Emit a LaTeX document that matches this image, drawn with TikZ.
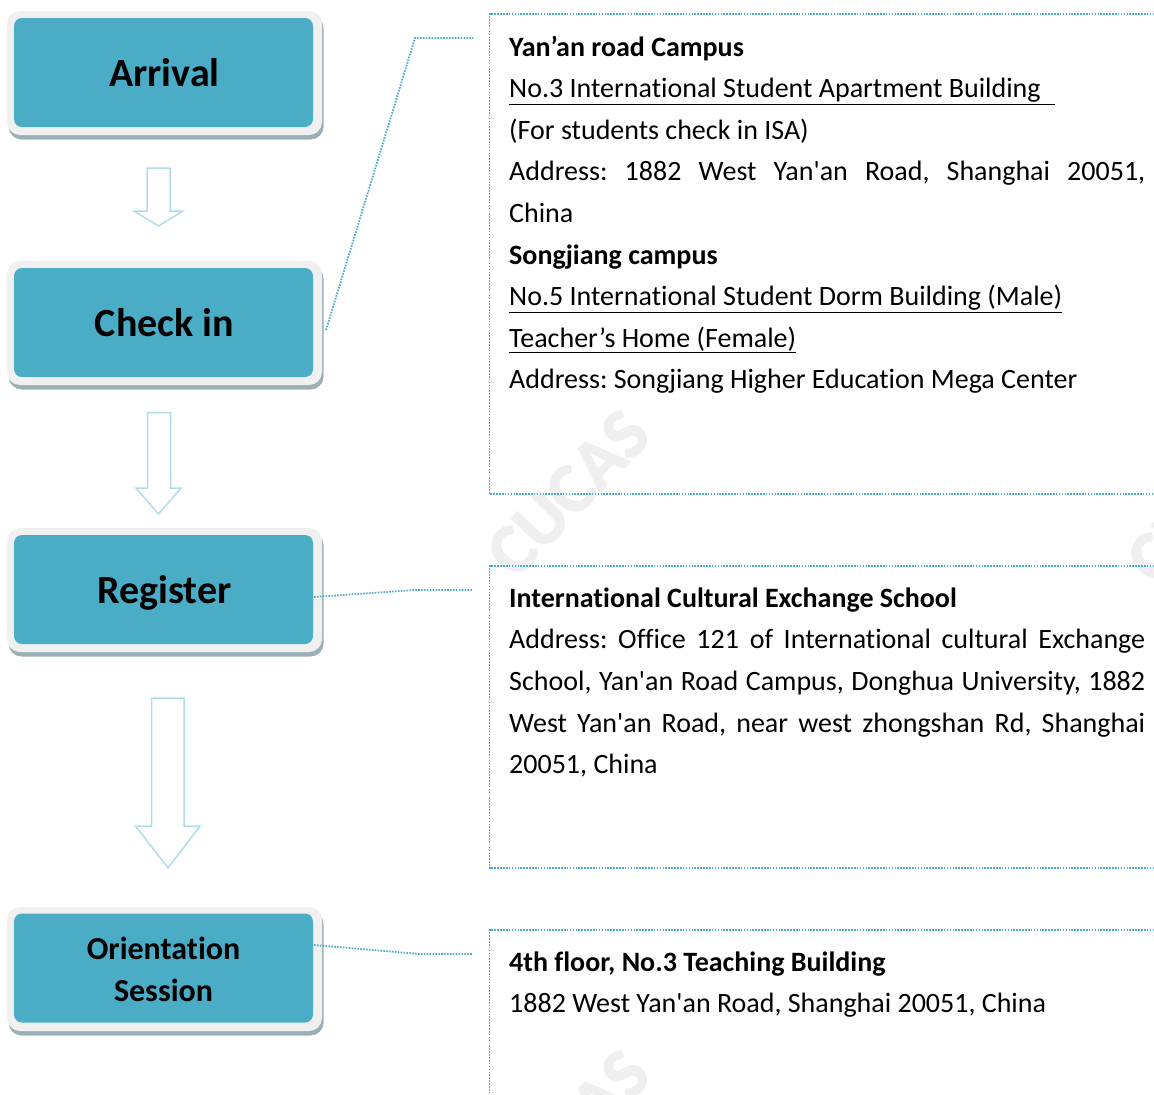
\documentclass[tikz,border=0pt]{standalone}
\usepackage{fontspec}
\setmainfont{Carlito}
\newfontfamily\bodyfont{Carlito}[Ligatures=NoCommon]
\newfontfamily\stampfont{Carlito}[BoldFeatures={FakeBold=2}]
\usetikzlibrary{shadows}
\definecolor{teal1}{HTML}{4BACC6}
\definecolor{rim}{HTML}{F0F0F0}
\definecolor{shade}{HTML}{9BB0B6}
\definecolor{arrowc}{HTML}{B0DDE9}
\definecolor{mark}{HTML}{EFEFEF}
\newcommand{\jl}[1]{\hbox to 636pt{\spaceskip=0.23em plus 1fil\relax #1}}
\newcommand{\tl}[1]{\hbox{#1}}
\tikzset{
 x=1pt,y=-1pt,
 rimbox/.style={fill=rim,rounded corners=13pt,minimum width=315pt,minimum height=124pt,inner sep=0pt,
   drop shadow={shadow xshift=1.6pt,shadow yshift=-4.5pt,opacity=1,fill=shade}},
 stepbox/.style={fill=teal1,rounded corners=8pt,minimum width=299pt,minimum height=109pt,inner sep=0pt,align=center,font=\bodyfont\bfseries\fontsize{40}{41.6}\selectfont,text=black},
 smallstep/.style={stepbox,font=\bodyfont\bfseries\fontsize{32}{41.4}\selectfont},
 steplabel/.style={inner sep=0pt,align=center,text=black,font=\bodyfont\bfseries\fontsize{40}{41.6}\selectfont},
 smalllabel/.style={steplabel,font=\bodyfont\bfseries\fontsize{32}{41.4}\selectfont},
 blockarrow/.style={draw=arrowc,fill=white,line width=1.5pt,line join=miter},
 infobox/.style={draw=teal1,line width=1.8pt,dash pattern=on 1.6pt off 1.3pt},
 leader/.style={draw=teal1,line width=1.8pt,dash pattern=on 1.6pt off 1.3pt},
 bodytext/.style={anchor=north west,inner sep=0pt,text=black,font=\bodyfont\frenchspacing\fontsize{28}{41.6}\selectfont},
 stamp/.style={rotate=46,text=mark,font=\stampfont\bfseries\fontsize{71}{71}\selectfont,inner sep=0pt}
}
\begin{document}
\begin{tikzpicture}
\useasboundingbox (0,0) rectangle (1154,1095);
\clip (0,0) rectangle (1154,1095);
% watermarks
\node[stamp] (w1) at (568,493) {CUCAS};
\node[stamp] (w2) at (1208,500) {CUCAS};
\node[stamp] (w3) at (568,1133) {CUCAS};
% info boxes
\draw[infobox] (1160,14) -- (489.5,14) -- (489.5,494) -- (1160,494);
\draw[infobox] (1160,566) -- (489.5,566) -- (489.5,868) -- (1160,868);
\draw[infobox] (1160,930) -- (489.5,930) -- (489.5,1100);
% step boxes
\node[rimbox] (r1) at (164.5,73) {};
\node[stepbox] (arrival) at (163.5,72.5) {};
\node[steplabel] (arrivalt) at (164.5,72.5) {Arrival};
\node[rimbox] (r2) at (164.5,323) {};
\node[stepbox] (checkin) at (163.5,322.5) {};
\node[steplabel] (checkint) at (164.5,322.5) {Check in};
\node[rimbox] (r3) at (164.5,590) {};
\node[stepbox] (register) at (163.5,589.5) {};
\node[steplabel] (registert) at (164.5,593) {Register};
\node[rimbox] (r4) at (164.5,969) {};
\node[stepbox] (orient) at (163.5,968) {};
\node[smalllabel] (orientt) at (163.5,969.5) {Orientation\\Session};
% block arrows
\draw[blockarrow] (147,168) -- (170,168) -- (170,211) -- (183,211) -- (158.5,226) -- (134,211) -- (147,211) -- cycle;
\draw[blockarrow] (147.5,412.5) -- (170.5,412.5) -- (170.5,488) -- (181,488) -- (158.5,514) -- (136,488) -- (147.5,488) -- cycle;
\draw[blockarrow] (151.5,698) -- (184,698) -- (184,826) -- (200,826) -- (168,868) -- (135.5,826) -- (151.5,826) -- cycle;
% leaders
\coordinate (c1a) at (326,330); \coordinate (c1b) at (415,38); \coordinate (c1c) at (473,38);
\coordinate (c2a) at (314,597); \coordinate (c2b) at (415,590); \coordinate (c2c) at (473,590);
\coordinate (c3a) at (314,945); \coordinate (c3b) at (420,954); \coordinate (c3c) at (473,954);
\draw[leader] (c1a) -- (c1b) -- (c1c);
\draw[leader] (c2a) -- (c2b) -- (c2c);
\draw[leader] (c3a) -- (c3b) -- (c3c);
% texts
\node[bodytext] (t1) at (509,35.5) {\vbox{\hsize=636pt
\tl{\textbf{Yan’an road Campus}}
\tl{\underline{No.3 International Student Apartment Building\hspace{14pt}}}
\tl{(For students check in ISA)}
\jl{Address: 1882 West Yan'an Road, Shanghai 20051,}
\tl{China}
\tl{\textbf{Songjiang campus}}
\tl{\underline{No.5 International Student Dorm Building (Male)}}
\tl{\underline{Teacher’s Home (Female)}}
\tl{Address: Songjiang Higher Education Mega Center}}};
\node[bodytext] (t2) at (509,587.5) {\vbox{\hsize=636pt
\tl{\textbf{International Cultural Exchange School}}
\jl{Address: Office 121 of International cultural Exchange}
\jl{School, Yan'an Road Campus, Donghua University, 1882}
\jl{West Yan'an Road, near west zhongshan Rd, Shanghai}
\tl{20051, China}}};
\node[bodytext] (t3) at (509,951.5) {\vbox{\hsize=636pt
\tl{\textbf{4th floor, No.3 Teaching Building}}
\tl{1882 West Yan'an Road, Shanghai 20051, China}}};
\end{tikzpicture}
\end{document}
